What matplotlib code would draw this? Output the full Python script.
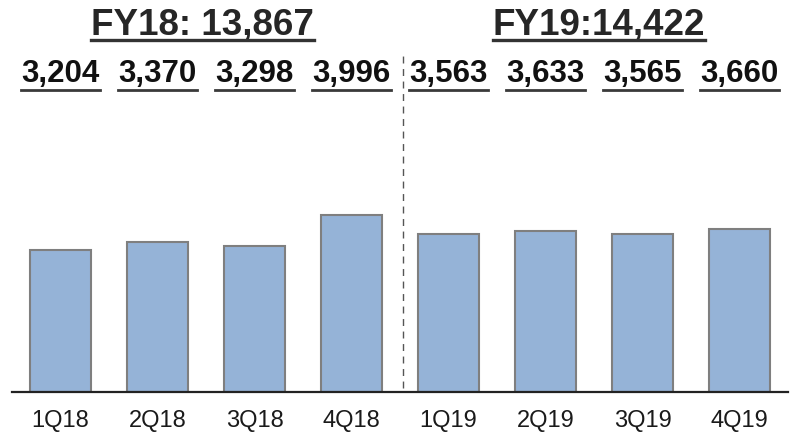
import matplotlib
matplotlib.use("Agg")
import matplotlib.pyplot as plt
from matplotlib.lines import Line2D

quarters = ["1Q18", "2Q18", "3Q18", "4Q18", "1Q19", "2Q19", "3Q19", "4Q19"]
values = [3204, 3370, 3298, 3996, 3563, 3633, 3565, 3660]
years = ["FY18: 13,867", "FY19:14,422"]

plt.rcParams['font.family'] = ['Liberation Sans', 'DejaVu Sans']

W, H = 796, 434
fig = plt.figure(figsize=(W / 100, H / 100), dpi=100)
base = 392
ax = fig.add_axes([12 / W, (H - base) / H, 776 / W, base / H])

x = list(range(len(quarters)))
ax.bar(x, values, width=0.62, color="#95b3d7", edgecolor="#7f7f7f", linewidth=1.5, zorder=2)
ax.set_xlim(-0.5, 7.5)
ax.set_ylim(0, base / 0.0444)

for s in ["top", "right", "left"]:
    ax.spines[s].set_visible(False)
ax.spines["bottom"].set_linewidth(1.6)
ax.spines["bottom"].set_color("#222222")
ax.set_yticks([])
ax.set_xticks(x)
ax.set_xticklabels(quarters, fontsize=17, color="#1a1a1a")
ax.tick_params(axis="x", length=0, pad=13)

# dashed separator between fiscal years
ax.plot([3.5 + 0.03, 3.5 + 0.03], [(base - 388) / base, (base - 55) / base],
        transform=ax.get_xaxis_transform(), color="#555555", lw=1.0,
        ls=(0, (5, 4)), clip_on=False)

tr = ax.get_xaxis_transform()
labels = []
for xi, v in zip(x, values):
    t = ax.text(xi, (base - 82) / base, f"{v:,}", ha="center", va="baseline",
                fontsize=22.5, fontweight="bold", color="#111111", transform=tr)
    labels.append((t, 8, 2.0, "#3a3a3a"))

heads_x = [1.46, 5.55]
for hx, ht in zip(heads_x, years):
    t = ax.text(hx, (base - 34) / base, ht, ha="center", va="baseline",
                fontsize=26.5, fontweight="bold", color="#262626", transform=tr)
    labels.append((t, 6, 2.4, "#333333"))

fig.canvas.draw()
r = fig.canvas.get_renderer()
for t, off, lw, col in labels:
    bb = t.get_window_extent(r)
    # baseline pixel position
    _, by = tr.transform((0, t.get_position()[1]))
    yy = (by - off) / H
    fig.add_artist(Line2D([bb.x0 / W, bb.x1 / W], [yy, yy], transform=fig.transFigure,
                          color=col, lw=lw))

fig.savefig("out.png", dpi=100)
